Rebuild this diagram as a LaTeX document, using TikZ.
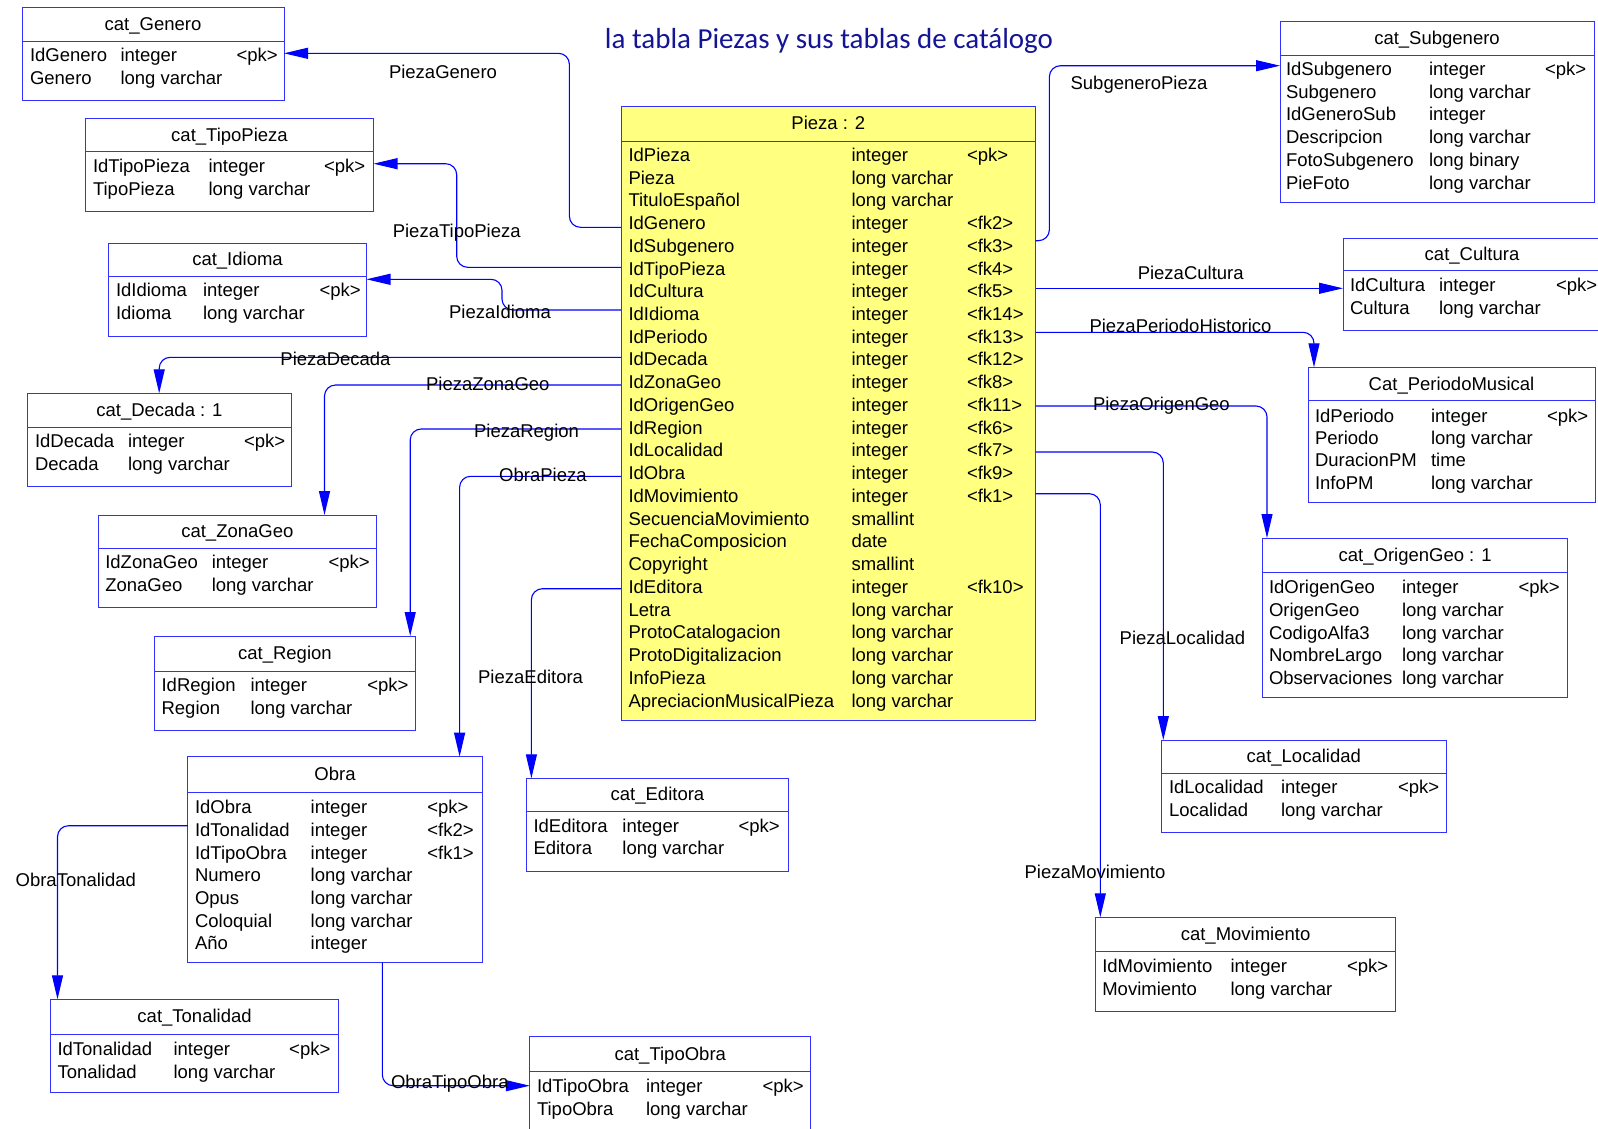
\documentclass[tikz,border=0pt]{standalone}
\usepackage{fontspec}
\setmainfont{Liberation Sans}
\newfontfamily\headfont{Carlito}
\usetikzlibrary{arrows.meta,calc}

\definecolor{boxblue}{RGB}{50,50,255}
\definecolor{linkblue}{RGB}{0,0,255}
\definecolor{titleblue}{RGB}{20,20,150}
\definecolor{piezafill}{RGB}{255,255,128}

\tikzset{
  erbox/.style={draw=boxblue, line width=1pt, anchor=north west, inner sep=0pt, outer sep=0pt, fill=white},
  erline/.style={draw=boxblue, line width=1pt},
  ertext/.style={inner sep=0pt, outer sep=0pt, font=\fontsize{18.5}{22}\selectfont, text=black},
  fk/.style={draw=linkblue, line width=1.1pt, rounded corners=11pt,
    -{Triangle[length=24pt,width=11pt]}},
  linklabel/.style={ertext, anchor=base},
}

% table frame: name, extra style, left, top, right, bottom, header rule, title
\newcommand\ertable[8]{%
  \node[erbox,#2,minimum width={#5-#3},minimum height={#6-#4}] (#1) at (#3,#4) {};
  \draw[erline] (#3,#7) -- (#5,#7);
  \node[ertext,anchor=base] (#1-title) at ({(#3+#5)/2},{(#4+#7)/2+6}) {#8};
}
% table rows: name, x of name column, x of type column, x of key column, first row y, pitch, list
\newcommand\errows[7]{%
  \foreach \n/\t/\k [count=\i from 1] in {#7} {
    \node[ertext,anchor=base west] (#1-n\i) at (#2,{#5+(\i-1)*#6+6}) {\n};
    \node[ertext,anchor=base west] (#1-t\i) at (#3,{#5+(\i-1)*#6+6}) {\t};
    \if.\k\else
      \node[ertext,anchor=base west] (#1-k\i) at (#4,{#5+(\i-1)*#6+6}) {\k};
    \fi
  }%
}

\begin{document}
\begin{tikzpicture}[x=1pt,y=-1pt]
\useasboundingbox (0,0) rectangle (1598,1128);
\fill[white] (0,0) rectangle (1598,1128);

\node[anchor=base, text=titleblue, font=\headfont\fontsize{29}{33}\selectfont, inner sep=0pt] (heading)
  at (829,48) {la tabla Piezas y sus tablas de catálogo};

% ---------- central table
\ertable{pieza}{fill=piezafill}{621}{106}{1035.5}{720}{141.5}{Pieza : 2}
\errows{pieza}{628.5}{851.5}{967}{155.3}{22.74}{
  IdPieza/integer/<pk>,
  Pieza/long varchar/.,
  TituloEspañol/long varchar/.,
  IdGenero/integer/<fk2>,
  IdSubgenero/integer/<fk3>,
  IdTipoPieza/integer/<fk4>,
  IdCultura/integer/<fk5>,
  IdIdioma/integer/<fk14>,
  IdPeriodo/integer/<fk13>,
  IdDecada/integer/<fk12>,
  IdZonaGeo/integer/<fk8>,
  IdOrigenGeo/integer/<fk11>,
  IdRegion/integer/<fk6>,
  IdLocalidad/integer/<fk7>,
  IdObra/integer/<fk9>,
  IdMovimiento/integer/<fk1>,
  SecuenciaMovimiento/smallint/.,
  FechaComposicion/date/.,
  Copyright/smallint/.,
  IdEditora/integer/<fk10>,
  Letra/long varchar/.,
  ProtoCatalogacion/long varchar/.,
  ProtoDigitalizacion/long varchar/.,
  InfoPieza/long varchar/.,
  ApreciacionMusicalPieza/long varchar/.}

% ---------- catalogue tables, left column
\ertable{genero}{}{22}{7.5}{284}{100.5}{41.5}{cat\_Genero}
\errows{genero}{30}{120.5}{236.5}{55}{23}{IdGenero/integer/<pk>, Genero/long varchar/.}

\ertable{tipopieza}{}{85.5}{118.5}{373.5}{211}{151.5}{cat\_TipoPieza}
\errows{tipopieza}{93}{208.5}{324}{166.5}{23}{IdTipoPieza/integer/<pk>, TipoPieza/long varchar/.}

\ertable{idioma}{}{108.5}{243}{366.5}{336}{276}{cat\_Idioma}
\errows{idioma}{116}{203}{319.5}{290}{23}{IdIdioma/integer/<pk>, Idioma/long varchar/.}

\ertable{decada}{}{27.8}{393.3}{291}{486.7}{427.3}{cat\_Decada : 1}
\errows{decada}{35}{128}{244}{441.7}{22.6}{IdDecada/integer/<pk>, Decada/long varchar/.}

\ertable{zonageo}{}{98}{515}{376.7}{607.7}{548.7}{cat\_ZonaGeo}
\errows{zonageo}{105.3}{211.8}{328.6}{562.3}{23}{IdZonaGeo/integer/<pk>, ZonaGeo/long varchar/.}

\ertable{region}{}{154.3}{636}{415.5}{730.7}{671.3}{cat\_Region}
\errows{region}{161.6}{250.6}{367.3}{685.3}{23}{IdRegion/integer/<pk>, Region/long varchar/.}

\ertable{obra}{}{187.8}{756.7}{482.2}{962.3}{792.3}{Obra}
\errows{obra}{195}{310.7}{427.3}{807.7}{22.7}{
  IdObra/integer/<pk>,
  IdTonalidad/integer/<fk2>,
  IdTipoObra/integer/<fk1>,
  Numero/long varchar/.,
  Opus/long varchar/.,
  Coloquial/long varchar/.,
  Año/integer/.}

\ertable{editora}{}{526.7}{778.3}{788.2}{871.3}{811.3}{cat\_Editora}
\errows{editora}{533.5}{622.4}{738.5}{826.7}{21.6}{IdEditora/integer/<pk>, Editora/long varchar/.}

\ertable{tonalidad}{}{50.7}{999.3}{338.4}{1092.3}{1034.3}{cat\_Tonalidad}
\errows{tonalidad}{57.5}{173.6}{289.2}{1049.3}{22.7}{IdTonalidad/integer/<pk>, Tonalidad/long varchar/.}

\ertable{tipoobra}{}{529.8}{1036.3}{810.7}{1140}{1071.7}{cat\_TipoObra}
\errows{tipoobra}{537}{646}{762.5}{1086.7}{22.3}{IdTipoObra/integer/<pk>, TipoObra/long varchar/.}

% ---------- catalogue tables, right column
\ertable{subgenero}{}{1280}{21.5}{1594}{202.5}{55}{cat\_Subgenero}
\errows{subgenero}{1286}{1429}{1545}{69.3}{22.8}{
  IdSubgenero/integer/<pk>,
  Subgenero/long varchar/.,
  IdGeneroSub/integer/.,
  Descripcion/long varchar/.,
  FotoSubgenero/long binary/.,
  PieFoto/long varchar/.}

\ertable{cultura}{}{1343}{238}{1601}{330.5}{270.5}{cat\_Cultura}
\errows{cultura}{1350}{1439}{1556}{285.7}{22.6}{IdCultura/integer/<pk>, Cultura/long varchar/.}

\ertable{periodo}{}{1308}{367.3}{1595}{502.7}{400.7}{Cat\_PeriodoMusical}
\errows{periodo}{1315}{1431}{1547}{416}{22.45}{
  IdPeriodo/integer/<pk>,
  Periodo/long varchar/.,
  DuracionPM/time/.,
  InfoPM/long varchar/.}

\ertable{origengeo}{}{1262.6}{538}{1567.6}{697.3}{572.7}{cat\_OrigenGeo : 1}
\errows{origengeo}{1269}{1402}{1518.5}{587.7}{22.65}{
  IdOrigenGeo/integer/<pk>,
  OrigenGeo/long varchar/.,
  CodigoAlfa3/long varchar/.,
  NombreLargo/long varchar/.,
  Observaciones/long varchar/.}

\ertable{localidad}{}{1161.3}{740}{1446.3}{832.7}{773}{cat\_Localidad}
\errows{localidad}{1169}{1281}{1398}{787.7}{22.3}{IdLocalidad/integer/<pk>, Localidad/long varchar/.}

\ertable{movimiento}{}{1095.7}{917.3}{1395.4}{1011.7}{951.7}{cat\_Movimiento}
\errows{movimiento}{1102.3}{1230.5}{1347}{966.7}{22.3}{IdMovimiento/integer/<pk>, Movimiento/long varchar/.}

% ---------- relationships leaving the left side of Pieza
\draw[fk] ($(pieza.north west)+(0,121.3)$) -| ($(genero.north east)+(285.4,45.8)$) -- ($(genero.north east)+(0,45.8)$);
\draw[fk] ($(pieza.north west)+(0,161.3)$) -| ($(tipopieza.north east)+(83.2,45.2)$) -- ($(tipopieza.north east)+(0,45.2)$);
\draw[fk] ($(pieza.north west)+(0,204)$) -| ($(idioma.north east)+(135.5,36.3)$) -- ($(idioma.north east)+(0,36.3)$);
\draw[fk] ($(pieza.north west)+(0,251.3)$) -| ($(decada.north west)+(131.4,0)$);
\draw[fk] ($(pieza.north west)+(0,279)$) -| ($(zonageo.north west)+(226.5,0)$);
\draw[fk] ($(pieza.north west)+(0,323)$) -| ($(region.north west)+(255.9,0)$);
\draw[fk] ($(pieza.north west)+(0,370.3)$) -| ($(obra.north west)+(271.8,0)$);
\draw[fk] ($(pieza.north west)+(0,482.7)$) -| ($(editora.north west)+(4.7,0)$);

% ---------- relationships leaving the right side of Pieza
\draw[fk] ($(pieza.north east)+(0,134.7)$) -| ($(subgenero.north west)+(-230.6,44.2)$) -- ($(subgenero.north west)+(0,44.2)$);
\draw[fk] ($(pieza.north east)+(0,182.3)$) coordinate (cu) -- (cu -| cultura.west);
\draw[fk] ($(pieza.north east)+(0,226.3)$) -| ($(periodo.north west)+(6,0)$);
\draw[fk] ($(pieza.north east)+(0,300)$) -| ($(origengeo.north west)+(4.4,0)$);
\draw[fk] ($(pieza.north east)+(0,346)$) -| ($(localidad.north west)+(2,0)$);
\draw[fk] ($(pieza.north east)+(0,387.7)$) -| ($(movimiento.north west)+(4.6,0)$);

% ---------- relationships of Obra
\draw[fk] ($(obra.north west)+(0,69)$) -| ($(tonalidad.north west)+(6.8,0)$);
\draw[fk] ($(obra.south west)+(194.5,0)$) |- ($(tipoobra.north west)+(0,49.4)$);

% ---------- relationship names
\node[linklabel] (l-genero)     at (443,78.7)    {PiezaGenero};
\node[linklabel] (l-tipopieza)  at (456.7,237.7) {PiezaTipoPieza};
\node[linklabel] (l-idioma)     at (500,318.3)   {PiezaIdioma};
\node[linklabel] (l-decada)     at (335.5,365.3) {PiezaDecada};
\node[linklabel] (l-zonageo)    at (487.8,390)   {PiezaZonaGeo};
\node[linklabel] (l-region)     at (526.5,437)   {PiezaRegion};
\node[linklabel] (l-obra)       at (542.9,481.7) {ObraPieza};
\node[linklabel] (l-editora)    at (530.6,683.3) {PiezaEditora};
\node[linklabel] (l-subgenero)  at (1139,89.3)   {SubgeneroPieza};
\node[linklabel] (l-cultura)    at (1190.7,279.3) {PiezaCultura};
\node[linklabel] (l-periodo)    at (1180.5,332.7) {PiezaPeriodoHistorico};
\node[linklabel] (l-origengeo)  at (1161.4,410)  {PiezaOrigenGeo};
\node[linklabel] (l-localidad)  at (1182.4,644.3) {PiezaLocalidad};
\node[linklabel] (l-movimiento) at (1095,878.3)  {PiezaMovimiento};
\node[linklabel] (l-tonalidad)  at (75.8,886)    {ObraTonalidad};
\node[linklabel] (l-tipoobra)   at (449.8,1088.3) {ObraTipoObra};
\end{tikzpicture}
\end{document}
